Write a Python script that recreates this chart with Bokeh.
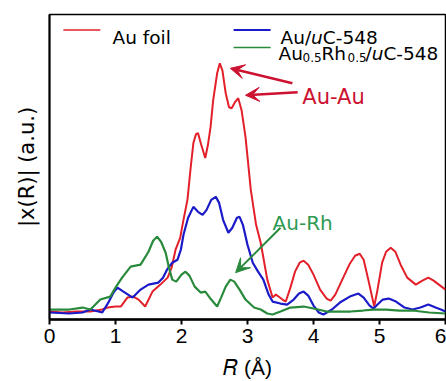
from bokeh.plotting import figure
from bokeh.models import Label, Arrow, VeeHead, FixedTicker, Range1d
from bokeh.embed import file_html
from bokeh.resources import INLINE

# ---- data (R in Angstrom, |chi(R)| arbitrary units) ----
r_foil = [0.0, 0.2, 0.4, 0.62, 0.8, 0.88, 1.0, 1.08, 1.18, 1.27, 1.35, 1.45, 1.56, 1.68, 1.79, 1.85,
          1.91, 1.98, 2.03, 2.09, 2.14, 2.18, 2.22, 2.25, 2.30, 2.36, 2.40, 2.44, 2.48, 2.54, 2.58,
          2.62, 2.67, 2.72, 2.76, 2.81, 2.86, 2.91, 2.97, 3.05, 3.13, 3.2, 3.3, 3.38, 3.43, 3.47,
          3.53, 3.58, 3.65, 3.72, 3.79, 3.85, 3.92, 4.0, 4.1, 4.2, 4.26, 4.33, 4.45, 4.55, 4.63,
          4.7, 4.76, 4.83, 4.92, 4.97, 5.04, 5.1, 5.17, 5.24, 5.32, 5.42, 5.55, 5.65, 5.74, 5.82,
          5.9, 6.0]
y_foil = [8, 7, 8, 8, 10, 12, 13, 13, 22, 23, 20, 13, 28, 35, 42, 52,
          70, 82, 100, 120, 153, 177, 186, 187, 175, 162, 175, 193, 220, 247, 257,
          250, 227, 213, 212, 218, 222, 210, 183, 130, 95, 77, 40, 22, 25, 23,
          20, 18, 32, 48, 57, 59, 55, 45, 30, 21, 19, 25, 42, 56, 64,
          66, 60, 40, 13, 30, 57, 68, 72, 68, 55, 42, 35, 39, 42, 39,
          35, 30]

r_auc = [0.0, 0.3, 0.5, 0.62, 0.8, 0.9, 0.97, 1.03, 1.12, 1.26, 1.38, 1.5, 1.65, 1.72, 1.78, 1.86,
         1.94, 1.99, 2.03, 2.1, 2.18, 2.25, 2.32, 2.38, 2.45, 2.52, 2.57, 2.63, 2.71, 2.77, 2.84,
         2.88, 2.93, 3.0, 3.08, 3.16, 3.24, 3.32, 3.38, 3.5, 3.6, 3.7, 3.78, 3.85, 3.92, 4.0,
         4.08, 4.15, 4.28, 4.4, 4.55, 4.68, 4.76, 4.85, 4.91, 4.97, 5.05, 5.14, 5.25, 5.38, 5.5,
         5.62, 5.74, 5.85, 5.93, 6.0]
y_auc = [7, 6, 7, 10, 7, 18, 27, 32, 28, 22, 30, 35, 37, 42, 50, 57,
         60, 70, 85, 102, 113, 108, 105, 110, 120, 123, 117, 100, 87, 92, 102,
         103, 95, 75, 57, 48, 40, 25, 18, 16, 15, 20, 26, 28, 24, 14,
         7, 5, 10, 17, 23, 26, 22, 14, 11, 15, 20, 21, 18, 12, 10,
         12, 15, 12, 10, 8]

r_aurh = [0.0, 0.3, 0.5, 0.62, 0.77, 0.92, 1.0, 1.1, 1.23, 1.38, 1.5, 1.57, 1.63, 1.69, 1.76, 1.81,
          1.86, 1.92, 2.0, 2.06, 2.12, 2.2, 2.29, 2.36, 2.45, 2.54, 2.6, 2.67, 2.74, 2.8, 2.88,
          2.97, 3.1, 3.2, 3.3, 3.38, 3.5, 3.65, 3.85, 4.0, 4.2, 4.4, 4.56, 4.75, 4.9, 5.1, 5.3,
          5.5, 5.75, 6.0]
y_aurh = [10, 10, 12, 10, 20, 23, 32, 42, 53, 55, 68, 79, 83, 78, 67, 52,
          40, 38, 45, 48, 44, 33, 27, 28, 20, 13, 22, 33, 40, 38, 30,
          20, 12, 10, 6, 5, 8, 12, 13, 11, 8, 8, 8, 9, 10, 10, 9,
          9, 7, 6]

x_ticks = [0, 1, 2, 3, 4, 5, 6]

RED = "#e3202a"
BLUE = "#1a1ac8"
GREEN = "#2a8a3c"
ARROW_RED = "#cc1230"
TEXT_GREEN = "#2e9a52"
LEG_FONT = "DejaVu Sans"
LEG_SIZE = "18.5px"

p = figure(width=446, height=381, output_backend="svg", toolbar_location=None,
           x_range=Range1d(0, 6), y_range=Range1d(0, 306),
           min_border_left=49, min_border_right=1, min_border_top=14, min_border_bottom=61)
p.grid.visible = False
p.outline_line_color = "black"
p.outline_line_width = 1.5
p.background_fill_color = "white"
p.border_fill_color = "white"

p.line(r_foil, y_foil, line_color=RED, line_width=2)
p.line(r_auc, y_auc, line_color=BLUE, line_width=2.2)
p.line(r_aurh, y_aurh, line_color=GREEN, line_width=2.2)

# x axis
xa = p.xaxis[0]
xa.ticker = FixedTicker(ticks=x_ticks)
xa.minor_tick_line_color = None
xa.major_tick_in = 0
xa.major_tick_out = 5
xa.major_tick_line_width = 2
xa.axis_line_width = 2.5
xa.major_label_text_font = "Liberation Sans"
xa.major_label_text_font_size = "21px"
xa.major_label_text_color = "black"
xa.major_label_standoff = 4
xa.axis_label = "\U0001D445 (Å)"
xa.axis_label_text_font = "Liberation Sans"
xa.axis_label_text_font_size = "21px"
xa.axis_label_text_font_style = "normal"
xa.axis_label_text_color = "black"
xa.axis_label_standoff = 10

# y axis
ya = p.yaxis[0]
ya.ticker = FixedTicker(ticks=[])
ya.minor_tick_line_color = None
ya.major_tick_line_color = None
ya.major_label_text_font_size = "0px"
ya.axis_line_width = 2
ya.axis_label = "|x(R)| (a.u.)"
ya.axis_label_text_font = LEG_FONT
ya.axis_label_text_font_size = "21px"
ya.axis_label_text_font_style = "normal"
ya.axis_label_text_color = "black"
ya.axis_label_standoff = 11


def lab(x, y, text, size=LEG_SIZE, color="black", style="normal", font=LEG_FONT, xoff=0, yoff=0,
        base="alphabetic"):
    p.add_layout(Label(x=x, y=y, text=text, text_font=font, text_font_size=size, text_color=color,
                       text_font_style=style, x_offset=xoff, y_offset=yoff, text_baseline=base))


# legend lines (decoration)
p.segment(x0=[0.21, 2.79, 2.79], y0=[290.5, 290.5, 273], x1=[0.77, 3.35, 3.35], y1=[290.5, 290.5, 273],
          line_color=[RED, BLUE, GREEN], line_width=[1.5, 2, 1.5])

# legend texts
lab(0.955, 283, "Au foil")
x2 = 3.5
lab(x2, 283, "Au/")
lab(x2, 283, "u", style="italic", xoff=30.6)
lab(x2, 283, "C-548", xoff=42.3)
x3 = 3.47
lab(x3, 267, "Au")
lab(x3, 267, "0.5", size="12px", xoff=24, yoff=-4)
lab(x3, 267, "Rh", xoff=43)
lab(x3, 267, "0.5", size="12px", xoff=69, yoff=-4)
lab(x3, 267, "/", xoff=87)
lab(x3, 267, "u", style="italic", xoff=93.2)
lab(x3, 267, "C-548", xoff=104.9)

# annotations
lab(3.83, 223, "Au-Au", size="21px", color=ARROW_RED)
lab(3.38, 97, "Au-Rh", size="20px", color=TEXT_GREEN)

p.add_layout(Arrow(end=VeeHead(size=14, fill_color=ARROW_RED, line_color=ARROW_RED),
                   x_start=3.68, y_start=237, x_end=2.74, y_end=252,
                   line_color=ARROW_RED, line_width=2.5))
p.add_layout(Arrow(end=VeeHead(size=14, fill_color=ARROW_RED, line_color=ARROW_RED),
                   x_start=3.76, y_start=228, x_end=2.97, y_end=225,
                   line_color=ARROW_RED, line_width=2.5))
p.add_layout(Arrow(end=VeeHead(size=14, fill_color=GREEN, line_color=GREEN),
                   x_start=3.5, y_start=92, x_end=2.82, y_end=47,
                   line_color=GREEN, line_width=2))

open("out.html", "w").write(file_html(p, INLINE))
